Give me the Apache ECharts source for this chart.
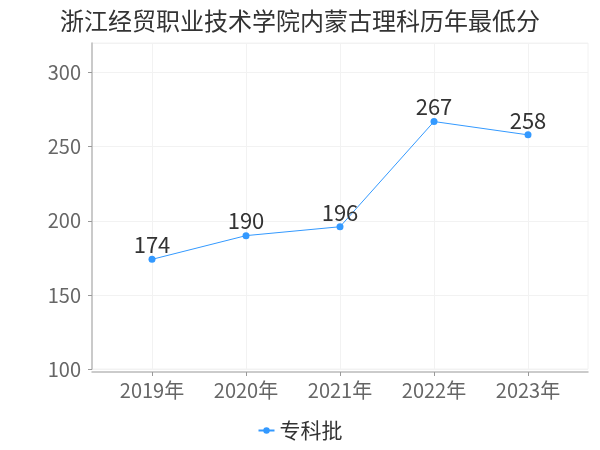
<!DOCTYPE html>
<html><head><meta charset="utf-8">
<script src="https://cdn.jsdelivr.net/npm/echarts@6/dist/echarts.min.js"></script>
<style>html,body{margin:0;padding:0;background:#fff}#c{width:600px;height:450px}</style>
</head><body><div id="c"></div>
<script>
const title = '浙江经贸职业技术学院内蒙古理科历年最低分';
const categories = ['2019年', '2020年', '2021年', '2022年', '2023年'];
const seriesName = '专科批';
const values = [174, 190, 196, 267, 258];
const yMin = 100, yMax = 320, yInterval = 50;

const FONT = '"Noto Sans CJK SC", sans-serif';
const chart = echarts.init(document.getElementById('c'));
chart.setOption({
  animation: false,
  textStyle: { fontFamily: FONT },
  title: { text: title, left: 'center', top: 4, textStyle: { fontSize: 24, fontWeight: 'normal', color: '#333', fontFamily: FONT } },
  legend: {
    bottom: 4, left: 'center', itemWidth: 16, itemHeight: 8, itemGap: 6,
    textStyle: { fontSize: 21, color: '#333', fontFamily: FONT },
    data: [{ name: seriesName }]
  },
  grid: [
    { left: 92, right: 12, top: 43, bottom: 81, show: true, borderColor: '#f2f2f2', borderWidth: 1 },
    { left: 152, right: 72, top: 43, bottom: 81 }
  ],
  xAxis: [
    { gridIndex: 0, type: 'value', min: 0, max: 1, interval: 1, offset: 3,
      axisLine: { show: true, lineStyle: { color: '#bbb', width: 1.5 } },
      axisTick: { show: false }, axisLabel: { show: false }, splitLine: { show: false } },
    { gridIndex: 1, type: 'category', data: categories, boundaryGap: false, offset: 3,
      axisLine: { show: false },
      axisTick: { show: true, length: 4, lineStyle: { color: '#999' } },
      axisLabel: { fontSize: 20, color: '#666', margin: 8, fontFamily: FONT },
      splitLine: { show: true, lineStyle: { color: '#f2f2f2', width: 1 } } }
  ],
  yAxis: [
    { gridIndex: 0, type: 'value', min: yMin, max: yMax, interval: yInterval, offset: 4,
      axisLine: { show: true, lineStyle: { color: '#bbb', width: 1.5 } },
      axisTick: { show: true, length: 4, lineStyle: { color: '#999' } },
      axisLabel: { fontSize: 20, color: '#666', margin: 7, showMaxLabel: false, fontFamily: FONT },
      splitLine: { show: true, lineStyle: { color: '#f2f2f2', width: 1 } } },
    { gridIndex: 1, type: 'value', min: yMin, max: yMax, interval: yInterval, show: false }
  ],
  series: [{
    name: seriesName, type: 'line', xAxisIndex: 1, yAxisIndex: 1, data: values,
    symbol: 'circle', symbolSize: 7,
    itemStyle: { color: '#3399ff' }, lineStyle: { color: '#3399ff', width: 1 },
    label: { show: true, position: 'top', distance: 0, fontSize: 22, color: '#333', fontFamily: FONT }
  }]
});
</script></body></html>
